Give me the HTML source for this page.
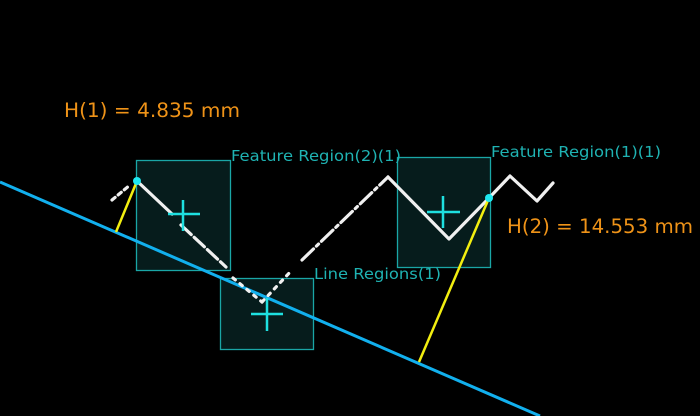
<!DOCTYPE html>
<html><head><meta charset="utf-8"><style>
html,body{margin:0;padding:0;background:#000;width:700px;height:416px;overflow:hidden}
svg{display:block}
text{font-family:"DejaVu Sans","Liberation Sans",sans-serif}
</style></head><body>
<svg width="700" height="416" viewBox="0 0 700 416">
<rect width="700" height="416" fill="#000"/>
<g fill="#061c1c" stroke="#1aa6a6" stroke-width="1.3">
<rect x="136.5" y="160.5" width="94" height="110"/>
<rect x="220.5" y="278.5" width="93" height="71"/>
<rect x="397.5" y="157.5" width="93" height="110"/>
</g>
<line x1="0" y1="182" x2="540" y2="416" stroke="#12b0ee" stroke-width="3"/>
<g fill="none" stroke="#f0f0f0" stroke-width="3.2" stroke-linecap="round" stroke-linejoin="round">
<polyline points="112,200 130,185" stroke-dasharray="4 4"/>
<polyline points="137,181 172,214"/>
<polyline points="181,225 226,267" stroke-dasharray="14 4"/>
<polyline points="233,278 262,302" stroke-dasharray="3 6"/>
<polyline points="262,302 292,270" stroke-dasharray="3 6"/>
<polyline points="302,260 388,177" stroke-dasharray="16 4 3 4"/>
<polyline points="388,177 449,239 489,198 510,176 537,201 553,183"/>
</g>
<g stroke="#1ee0e0" stroke-width="2.5">
<line x1="168" y1="214" x2="200" y2="214"/><line x1="183" y1="200" x2="183" y2="231"/>
<line x1="251" y1="314" x2="283" y2="314"/><line x1="267" y1="298" x2="267" y2="331"/>
<line x1="427" y1="212" x2="460" y2="212"/><line x1="443" y1="196" x2="443" y2="228"/>
</g>
<g stroke="#f2ee10" stroke-width="2.5">
<line x1="137" y1="181" x2="116" y2="232"/>
<line x1="489" y1="198" x2="419" y2="362"/>
</g>
<circle cx="137" cy="181" r="4" fill="#1ee8f0"/>
<circle cx="489" cy="198" r="4" fill="#1ee8f0"/>
<g fill="#1fb3b3" font-size="15">
<text x="231" y="161" textLength="170" lengthAdjust="spacingAndGlyphs">Feature Region(2)(1)</text>
<text x="491" y="157" textLength="170" lengthAdjust="spacingAndGlyphs">Feature Region(1)(1)</text>
<text x="314" y="279" textLength="127" lengthAdjust="spacingAndGlyphs">Line Regions(1)</text>
</g>
<g fill="#ef9318" font-size="19.5">
<text x="64" y="117" textLength="176" lengthAdjust="spacingAndGlyphs">H(1) = 4.835 mm</text>
<text x="507" y="233" textLength="186" lengthAdjust="spacingAndGlyphs">H(2) = 14.553 mm</text>
</g>
</svg>
</body></html>
